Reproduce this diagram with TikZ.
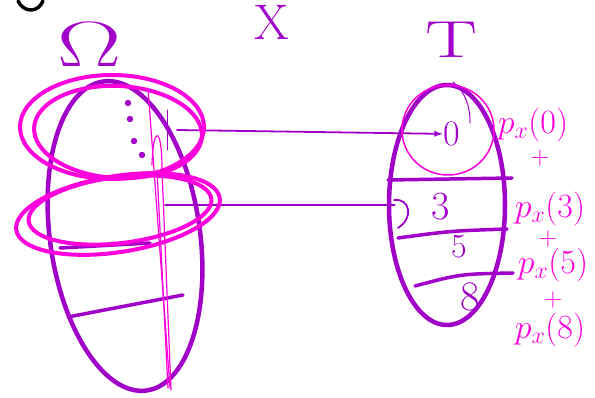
\RequirePackage{fix-cm}
\documentclass[tikz,border=0pt]{standalone}
\usetikzlibrary{shapes.geometric}
\definecolor{inkPurple}{RGB}{160,0,200}
\definecolor{inkPink}{RGB}{255,0,220}

\begin{document}
\begin{tikzpicture}[x=1pt, y=-1pt, >=latex, line cap=round, line join=round,
  pen/.style={draw=inkPurple, line width=4.5pt},
  chord/.style={draw=inkPurple, line width=3.5pt},
  thinpen/.style={draw=inkPurple, line width=1.8pt},
  hl/.style={draw=inkPink, line width=4pt},
  thinhl/.style={draw=inkPink, line width=1.2pt},
  num/.style={text=inkPurple, inner sep=1pt},
  lbl/.style={text=inkPink, inner sep=1pt, font=\fontsize{34}{34}\selectfont}]
\useasboundingbox (0,0) rectangle (595,398);

\draw[black, line width=3.5pt] (18,1) .. controls (24,13) and (38,13) .. (43,1);

\node[num, font=\fontsize{64}{64}\selectfont] (omegaLbl) at (90,45) {\scalebox{1.5}[1]{$\Omega$}};
\node[num, font=\fontsize{50}{50}\selectfont] (xLbl) at (272,22) {X};
\node[num, font=\fontsize{52}{52}\selectfont] (tLbl) at (452,40) {\scalebox{1.5}[1]{T}};

\node[ellipse, pen, minimum width=150pt, minimum height=312pt, rotate=8] (omega) at (125,236) {};
\node[ellipse, pen, minimum width=116pt, minimum height=240pt] (tset) at (447,205) {};

\draw[chord] (60,248) -- (150,243);
\draw[chord] (68,317) .. controls (120,307) .. (183,295);
\draw[chord] (388,180) -- (512,178);
\draw[chord] (398,238) .. controls (450,231) .. (507,229);
\draw[chord] (415,286) .. controls (460,274) .. (513,273);

\foreach \p in {(128,103),(130,119),(134,141),(142,155)}
  \fill[inkPurple] \p circle (3.2pt);

\node[num, font=\fontsize{36}{36}\selectfont] (zero) at (452,134) {0};
\node[num, font=\fontsize{40}{40}\selectfont] (three) at (441,207) {3};
\node[num, font=\fontsize{34}{34}\selectfont] (five) at (459,247) {5};
\node[num, font=\fontsize{42}{42}\selectfont] (eight) at (470,297) {8};

\coordinate (a0) at (177,130);
\coordinate (a3) at (165,205);
\draw[->, thinpen] (a0) -- (zero);
\draw[thinpen, shorten >=36pt] (a3) -- (three.west |- a3);
\draw[thinpen] (394,200) .. controls (410,198) and (414,218) .. (398,228);

\draw[thinpen, line width=1pt] (167,110) -- (167,150);
\draw[thinpen, line width=1pt] (453,82) .. controls (465,92) and (470,105) .. (470,123);

\draw[hl] (112,127) ellipse [x radius=92, y radius=52];
\draw[hl, rotate around={-3:(118,132)}] (118,132) ellipse [x radius=84, y radius=46];
\draw[hl, rotate around={9:(118,214)}] (118,214) ellipse [x radius=103, y radius=38];
\draw[hl, rotate around={7:(120,210)}] (120,210) ellipse [x radius=92, y radius=33];

\draw[thinhl] (148,88) -- (170,388);
\draw[thinhl] (152,165) .. controls (153,125) and (162,125) .. (162,170) -- (171,390);
\draw[thinhl] (157,170) -- (168,388);
\draw[inkPink, line width=1.5pt] (448,130) ellipse [x radius=46, y radius=45];

\node[lbl] (p0) at (533,125) {$p_x(0)$};
\node[lbl, font=\fontsize{26}{26}\selectfont] (plusA) at (540,158) {$+$};
\node[lbl] (p3) at (550,209) {$p_x(3)$};
\node[lbl, font=\fontsize{26}{26}\selectfont] (plusB) at (548,239) {$+$};
\node[lbl] (p5) at (553,265) {$p_x(5)$};
\node[lbl, font=\fontsize{26}{26}\selectfont] (plusC) at (553,300) {$+$};
\node[lbl] (p8) at (550,330) {$p_x(8)$};
\end{tikzpicture}
\end{document}
